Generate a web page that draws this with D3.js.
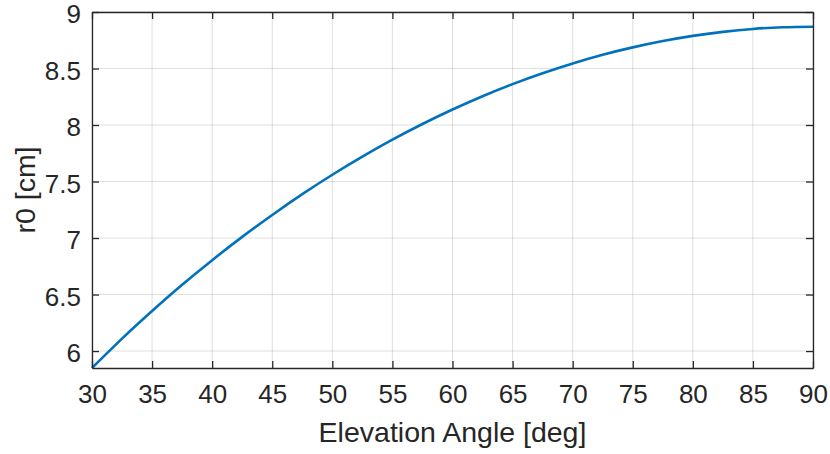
<!DOCTYPE html>
<html>
<head>
<meta charset="utf-8">
<script src="https://cdn.jsdelivr.net/npm/d3@7"></script>
<style>
  body { margin: 0; background: #fff; }
  text { font-family: "Liberation Sans", Arial, Helvetica, sans-serif; fill: #262626; }
</style>
</head>
<body>
<div id="chart"></div>
<script>
// elevation angle [deg] and r0 [cm]
const elevation = [30, 32.5, 35, 37.5, 40, 42.5, 45, 47.5, 50, 52.5, 55, 57.5, 60,
                   62.5, 65, 67.5, 70, 72.5, 75, 77.5, 80, 82.5, 85, 87.5, 90];
const r0 = [5.85, 6.110, 6.354, 6.586, 6.804, 7.010, 7.204, 7.388, 7.560, 7.720, 7.870, 8.009, 8.137,
            8.255, 8.362, 8.458, 8.545, 8.622, 8.687, 8.743, 8.789, 8.824, 8.850, 8.865, 8.870];

const xTicks = [30, 35, 40, 45, 50, 55, 60, 65, 70, 75, 80, 85, 90];
const yTicks = [6, 6.5, 7, 7.5, 8, 8.5, 9];

const width = 830;
const height = 454;
const margin = { top: 12, right: 17, bottom: 86, left: 92 };

const svg = d3.select("#chart")
    .append("svg")
    .attr("width", width)
    .attr("height", height);

const x = d3.scaleLinear()
    .domain([30, 90])
    .range([margin.left, width - margin.right]);

const y = d3.scaleLinear()
    .domain([5.85, 9])
    .range([height - margin.bottom, margin.top]);

const x0 = x.range()[0], x1 = x.range()[1];
const y0 = y.range()[0], y1 = y.range()[1];

// grid
const grid = svg.append("g").attr("stroke", "#262626").attr("stroke-opacity", 0.15).attr("stroke-width", 1);
grid.selectAll("line.vx")
    .data(xTicks)
    .enter()
    .append("line")
    .attr("x1", d => x(d)).attr("x2", d => x(d))
    .attr("y1", y1).attr("y2", y0);
grid.selectAll("line.hy")
    .data(yTicks)
    .enter()
    .append("line")
    .attr("x1", x0).attr("x2", x1)
    .attr("y1", d => y(d)).attr("y2", d => y(d));

// data line
const line = d3.line()
    .x((d, i) => x(elevation[i]))
    .y(d => y(d))
    .curve(d3.curveNatural);

svg.append("path")
    .datum(r0)
    .attr("fill", "none")
    .attr("stroke", "#0072BD")
    .attr("stroke-width", 2.6)
    .attr("d", line);

// axes (MATLAB style: inward ticks, box on)
const tickLen = 7;
const tickSize = "26px";

const xAxis = svg.append("g")
    .attr("transform", `translate(0,${y0})`)
    .call(d3.axisBottom(x).tickValues(xTicks).tickSizeInner(-tickLen).tickSizeOuter(0).tickPadding(17));
const yAxis = svg.append("g")
    .attr("transform", `translate(${x0},0)`)
    .call(d3.axisLeft(y).tickValues(yTicks).tickSizeInner(-tickLen).tickSizeOuter(0).tickPadding(11).tickFormat(d3.format("")));
const xTop = svg.append("g")
    .attr("transform", `translate(0,${y1})`)
    .call(d3.axisTop(x).tickValues(xTicks).tickSizeInner(-tickLen).tickSizeOuter(0).tickFormat(""));
const yRight = svg.append("g")
    .attr("transform", `translate(${x1},0)`)
    .call(d3.axisRight(y).tickValues(yTicks).tickSizeInner(-tickLen).tickSizeOuter(0).tickFormat(""));

[xAxis, yAxis, xTop, yRight].forEach(g => {
    g.selectAll("path.domain").attr("stroke", "#262626").attr("stroke-width", 1.3);
    g.selectAll(".tick line").attr("stroke", "#262626").attr("stroke-width", 1.3);
    g.selectAll(".tick text")
        .style("font-size", tickSize)
        .style("font-family", "'Liberation Sans', Arial, sans-serif")
        .attr("fill", "#262626");
});
xAxis.selectAll(".tick text").attr("dy", "0.71em");
yAxis.selectAll(".tick text").attr("dy", "0.42em");

// labels
svg.append("text")
    .attr("x", (x0 + x1) / 2)
    .attr("y", 442)
    .attr("text-anchor", "middle")
    .style("font-size", "28.5px")
    .text("Elevation Angle [deg]");

svg.append("text")
    .attr("transform", `translate(35,${(y0 + y1) / 2}) rotate(-90)`)
    .attr("text-anchor", "middle")
    .style("font-size", "28.5px")
    .text("r0 [cm]");
</script>
</body>
</html>
